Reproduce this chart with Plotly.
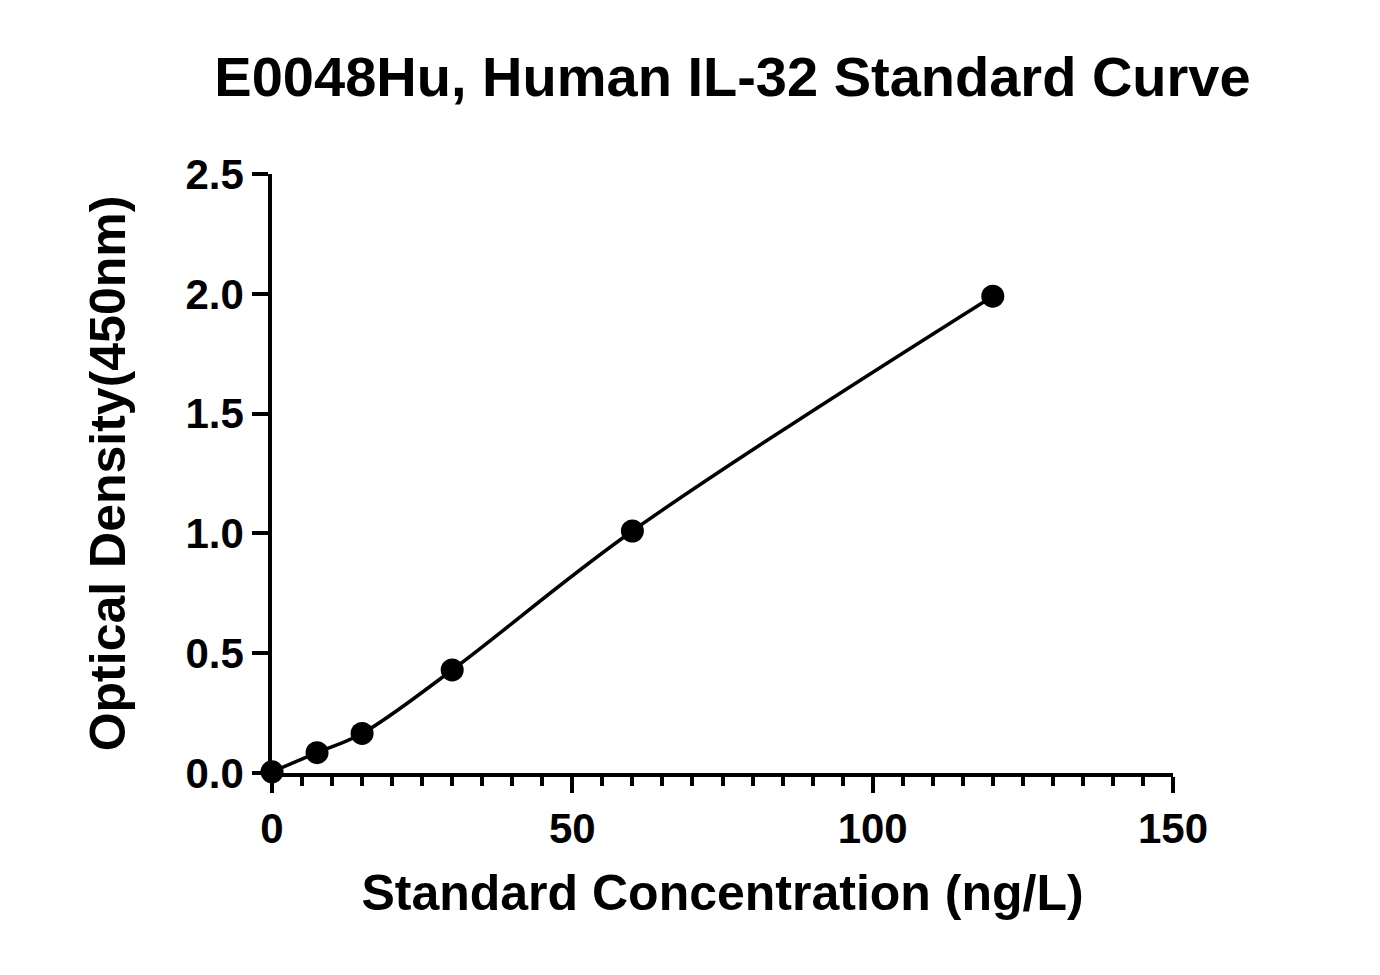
import plotly.graph_objects as go

conc = [0, 7.5, 15, 30, 60, 120]
od = [0.005, 0.085, 0.165, 0.43, 1.01, 1.99]
xticks = [0, 50, 100, 150]
yticks = [0, 0.5, 1, 1.5, 2, 2.5]
ylabels = ['0.0', '0.5', '1.0', '1.5', '2.0', '2.5']

fig = go.Figure()
fig.add_trace(go.Scatter(
    x=conc, y=od, mode='lines+markers', line_shape='spline',
    line=dict(color='black', width=3.5),
    marker=dict(color='black', size=23),
    cliponaxis=False, showlegend=False
))

font = 'Liberation Sans, Arial, sans-serif'
fig.update_layout(
    width=1380, height=975,
    margin=dict(l=264, r=215, t=166, b=210),
    plot_bgcolor='white', paper_bgcolor='white',
    title=dict(text='<b>E0048Hu, Human IL-32 Standard Curve</b>', x=0.525, xanchor='center',
               y=0.93, yanchor='middle', font=dict(family=font, size=56, color='black')),
    xaxis=dict(range=[0, 150], tickvals=xticks, ticktext=['<b>%d</b>' % v for v in xticks],
               showgrid=False, zeroline=False,
               showline=True, linecolor='black', linewidth=3.5,
               ticks='outside', ticklen=16, tickwidth=3.5, tickcolor='black',
               minor=dict(dtick=5, ticks='outside', ticklen=9, tickwidth=3.5, tickcolor='black'),
               tickfont=dict(family=font, size=42, color='black'),
               title=dict(text='<b>Standard Concentration (ng/L)</b>',
                          font=dict(family=font, size=50, color='black'), standoff=25)),
    yaxis=dict(range=[0, 2.5], tickvals=yticks, ticktext=['<b>%s</b>' % t for t in ylabels],
               showgrid=False, zeroline=False,
               showline=True, linecolor='black', linewidth=3.5,
               ticks='outside', ticklen=16, tickwidth=3.5, tickcolor='black',
               tickfont=dict(family=font, size=42, color='black'),
               title=dict(text='<b>Optical Density(450nm)</b>',
                          font=dict(family=font, size=50, color='black'), standoff=45)),
)
fig.write_html('out.html')
